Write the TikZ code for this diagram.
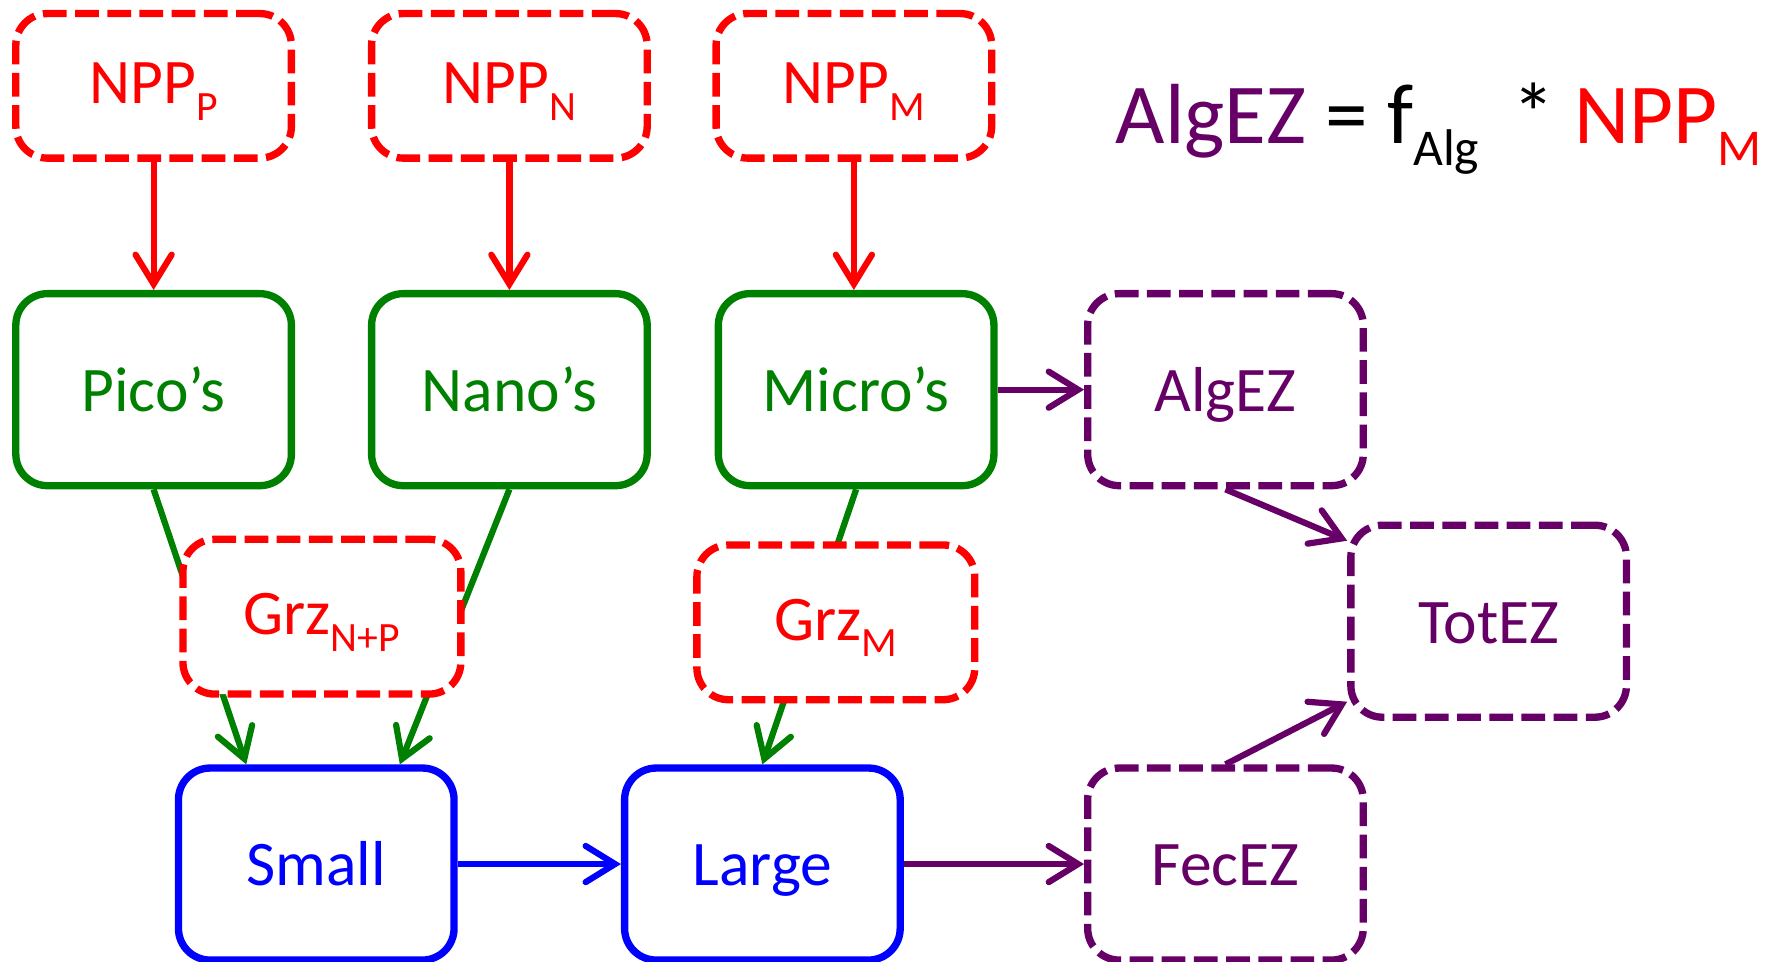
\documentclass[tikz,border=0pt]{standalone}
\usepackage{fontspec}
\setmainfont{Carlito}
\usetikzlibrary{arrows.meta,calc}
\definecolor{rosso}{RGB}{255,0,0}
\definecolor{verde}{RGB}{0,128,0}
\definecolor{blu}{RGB}{0,0,255}
\definecolor{viola}{RGB}{102,0,102}
\newcommand{\pedice}[2]{\raisebox{-0.26em}{\fontsize{#1}{#1}\selectfont #2}}

\begin{document}
\begin{tikzpicture}[line width=0.055cm, >={Straight Barb[length=0.26cm,width=0.32cm,line cap=round]}]
	% Stile per le scatole del diagramma
	\tikzset{scatola/.style={rectangle, rounded corners=0.28cm, draw, line width=0.065cm, minimum width=2.44cm, minimum height=1.70cm, inner sep=0pt, text height=13pt, text depth=2pt, font=\fontsize{16}{19}\selectfont},
		tratteggiata/.style={scatola, dash pattern=on 0.21cm off 0.075cm},
		bassa/.style={minimum height=1.28cm},
		media/.style={minimum height=1.37cm, minimum width=2.46cm},
		pedici/.style={text depth=4pt}}
	\useasboundingbox (0,0) rectangle (15.68,8.51);
	
	% Riga in alto: produzione primaria
	\node[rosso, tratteggiata, bassa, pedici] (nppp) at (1.36,7.75) {NPP\pedice{10.5}{P}};
	\node[rosso, tratteggiata, bassa, pedici] (nppn) at (4.51,7.75) {NPP\pedice{10.5}{N}};
	\node[rosso, tratteggiata, bassa, pedici] (nppm) at (7.56,7.75) {NPP\pedice{10.5}{M}};
	
	% Riga centrale: fitoplancton e alghe
	\node[verde, scatola] (pico) at (1.36,5.06) {Pico’s};
	\node[verde, scatola] (nano) at (4.51,5.06) {Nano’s};
	\node[verde, scatola] (micro) at (7.58,5.06) {Micro’s};
	\node[viola, tratteggiata] (alg) at (10.85,5.06) {AlgEZ};
	
	% Riga in basso: zooplancton
	\node[blu, scatola] (small) at (2.80,0.86) {Small};
	\node[blu, scatola] (large) at (6.75,0.86) {Large};
	\node[viola, tratteggiata] (fec) at (10.85,0.86) {FecEZ};
	\node[viola, tratteggiata] (tot) at (13.18,3.01) {TotEZ};
	
	% Pascolo (le frecce passano sotto le scatole Grz)
	\draw[verde, ->] (pico.south) -- ($(small.north)+(-0.62,0)$);
	\draw[verde, ->] (nano.south) -- ($(small.north)+(0.74,0)$);
	\draw[verde, ->] (micro.south) -- (large.north);
	\node[rosso, tratteggiata, media, pedici, fill=white] (grznp) at (2.85,3.05) {Grz\pedice{10.5}{N+P}};
	\node[rosso, tratteggiata, media, pedici, fill=white] (grzm) at (7.40,3.00) {Grz\pedice{10.5}{M}};
	
	% Archi
	\draw[rosso, ->] (nppp) -- (pico);
	\draw[rosso, ->] (nppn) -- (nano);
	\draw[rosso, ->] (nppm.south) -- (nppm.south |- micro.north);
	\draw[viola, ->] (micro) -- (alg);
	\draw[viola, ->] (alg.south) -- ($(tot.north west)+(0,-0.17)$);
	\draw[viola, ->] (fec.north) -- ($(tot.south west)+(0,0.17)$);
	\draw[blu, ->] (small) -- (large);
	\draw[viola, ->] (large) -- (fec);
	
	% Formula
	\node[anchor=base west, inner sep=0pt, font=\fontsize{21.5}{25}\selectfont] (formula) at (9.85,7.24) {\textcolor{viola}{AlgEZ} = f\pedice{13}{Alg}\ \,* \textcolor{rosso}{NPP\pedice{13}{M}}};
\end{tikzpicture}
\end{document}
